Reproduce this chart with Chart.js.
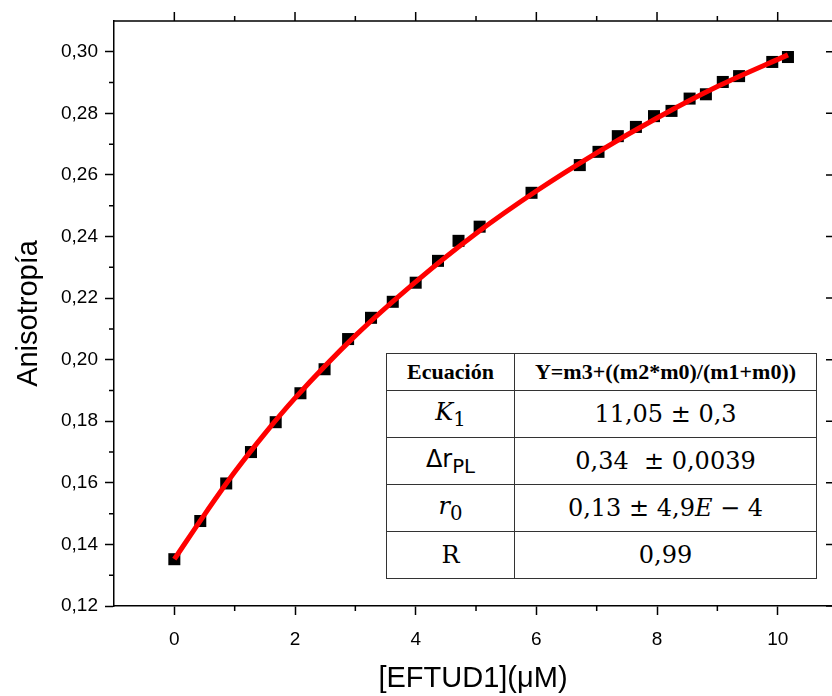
<!DOCTYPE html>
<html>
<head>
<meta charset="utf-8">
<script src="https://cdn.jsdelivr.net/npm/chart.js@4.4.1/dist/chart.umd.min.js"></script>
<style>
  body { margin: 0; background: #fff; }
  #wrap { position: relative; width: 832px; height: 696px; }
  #fit {
    position: absolute; left: 386px; top: 353px;
    border-collapse: collapse; table-layout: fixed;
    background: #fff; color: #000;
  }
  #fit th, #fit td {
    border: 1.5px solid #333; padding: 0; text-align: center;
    line-height: 1; white-space: nowrap;
  }
  #fit th { font: bold 22px "Liberation Serif", serif; height: 36px; }
  #fit td { font: 24px "DejaVu Serif", serif; height: 46px; }
  #fit td.sans { font-family: "DejaVu Sans", sans-serif; }
  #fit sub { font-size: 0.82em; vertical-align: -0.3em; }
</style>
</head>
<body>
<div id="wrap">
  <canvas id="grafica" width="832" height="696"></canvas>
  <table id="fit">
    <colgroup><col style="width:128px"><col style="width:302px"></colgroup>
    <tr><th>Ecuación</th><th>Y=m3+((m2*m0)/(m1+m0))</th></tr>
    <tr><td><i>K</i><sub>1</sub></td><td>11,05 ± 0,3</td></tr>
    <tr><td class="sans">Δr<sub>PL</sub></td><td>0,34&nbsp; ± 0,0039</td></tr>
    <tr><td><i>r</i><sub>0</sub></td><td>0,13 ± 4,9<i>E</i> − 4</td></tr>
    <tr><td>R</td><td>0,99</td></tr>
  </table>
</div>
<script>
// concentracion de EFTUD1 (uM) y anisotropia medida
var concentracion = [
    0, 0.43, 0.86, 1.27, 1.68, 2.09, 2.49, 2.88, 3.26, 3.62,
    4.00, 4.37, 4.71, 5.06, 5.92, 6.72, 7.03, 7.35, 7.65, 7.95,
    8.24, 8.54, 8.81, 9.09, 9.36, 9.91, 10.17
];
var anisotropia = [
    0.1352, 0.1476, 0.1598, 0.1700, 0.1797, 0.1891, 0.1969, 0.2067, 0.2136, 0.2188,
    0.2250, 0.2321, 0.2386, 0.2432, 0.2542, 0.2632, 0.2675, 0.2726, 0.2756, 0.2791,
    0.2808, 0.2848, 0.2862, 0.2902, 0.2921, 0.2967, 0.2983
];

// curva de ajuste
var ajusteX = [0, 0.5, 1, 1.5, 2, 3, 4, 5, 6, 7, 8, 9, 10.17];
var ajusteY = [0.1352, 0.1497, 0.1635, 0.1760, 0.1875, 0.2078, 0.2253, 0.2410, 0.2548, 0.2672, 0.2785, 0.2887, 0.2990];

// marcas de los ejes
var ticksX = [0, 2, 4, 6, 8, 10];
var ticksXmenores = [1, 3, 5, 7, 9];
var ticksY = [0.12, 0.14, 0.16, 0.18, 0.20, 0.22, 0.24, 0.26, 0.28, 0.30];
var ticksYmenores = [0.13, 0.15, 0.17, 0.19, 0.21, 0.23, 0.25, 0.27, 0.29];

var puntos = concentracion.map((x, i) => ({ x: x, y: anisotropia[i] }));
var curva = ajusteX.map((x, i) => ({ x: x, y: ajusteY[i] }));

// marco: eje superior, ticks menores y ticks del lado derecho
var marco = {
    id: 'marco',
    afterDraw(chart) {
        var ctx = chart.ctx, a = chart.chartArea, sx = chart.scales.x, sy = chart.scales.y;
        ctx.save();
        ctx.strokeStyle = '#000';
        ctx.lineWidth = 1.5;
        ctx.beginPath();
        ctx.moveTo(a.left - 0.75, a.top);
        ctx.lineTo(a.right, a.top);
        ticksX.forEach(v => {
            var p = sx.getPixelForValue(v);
            ctx.moveTo(p, a.top); ctx.lineTo(p, a.top - 9);
        });
        ticksXmenores.forEach(v => {
            var p = sx.getPixelForValue(v);
            ctx.moveTo(p, a.top); ctx.lineTo(p, a.top - 5);
            ctx.moveTo(p, a.bottom); ctx.lineTo(p, a.bottom + 5);
        });
        ticksYmenores.forEach(v => {
            var p = sy.getPixelForValue(v);
            ctx.moveTo(a.left, p); ctx.lineTo(a.left - 5, p);
        });
        ticksY.forEach(v => {
            var p = sy.getPixelForValue(v);
            ctx.moveTo(a.right, p); ctx.lineTo(a.right - 6, p);
        });
        ctx.stroke();
        ctx.restore();
    }
};

var ctx = document.getElementById('grafica').getContext('2d');
var grafica = new Chart(ctx, {
    type: 'scatter',
    data: {
        datasets: [{
            label: 'Ajuste',
            data: curva,
            showLine: true,
            borderColor: '#ff0000',
            borderWidth: 5,
            pointRadius: 0,
            cubicInterpolationMode: 'monotone',
            order: 0
        },
        {
            label: 'Anisotropía',
            data: puntos,
            pointStyle: 'rect',
            pointRadius: 8.5,
            backgroundColor: '#000',
            borderWidth: 0,
            order: 1
        }]
    },
    options: {
        responsive: false,
        animation: false,
        layout: { autoPadding: false, padding: { top: 21, right: 0, left: 0, bottom: 0 } },
        plugins: { legend: { display: false }, tooltip: { enabled: false } },
        scales: {
            x: {
                type: 'linear', min: -1, max: 10.9,
                afterBuildTicks: ax => { ax.ticks = ticksX.map(v => ({ value: v })); },
                afterFit: ax => { ax.height = 90; ax.paddingLeft = 0; ax.paddingRight = 0; },
                grid: { display: true, drawOnChartArea: false, tickLength: 9, tickWidth: 1.5, tickColor: '#000' },
                border: { display: true, color: '#000', width: 1.5 },
                ticks: { color: '#000', font: { family: 'Liberation Sans', size: 19 }, padding: 13, maxRotation: 0, autoSkip: false },
                title: { display: true, text: '[EFTUD1](μM)', color: '#000', font: { family: 'Liberation Sans', size: 29 }, padding: 0 }
            },
            y: {
                type: 'linear', min: 0.12, max: 0.31,
                afterBuildTicks: ax => { ax.ticks = ticksY.map(v => ({ value: v })); },
                afterFit: ax => { ax.width = 114; ax.paddingTop = 0; ax.paddingBottom = 0; },
                grid: { display: true, drawOnChartArea: false, tickLength: 9, tickWidth: 1.5, tickColor: '#000' },
                border: { display: true, color: '#000', width: 1.5 },
                ticks: {
                    color: '#000', font: { family: 'Liberation Sans', size: 19 }, padding: 7, autoSkip: false,
                    callback: v => v.toFixed(2).replace('.', ',')
                },
                title: { display: true, text: 'Anisotropía', color: '#000', font: { family: 'Liberation Sans', size: 29 }, padding: { top: 12, bottom: 0 } }
            }
        }
    },
    plugins: [marco]
});
</script>
</body>
</html>
